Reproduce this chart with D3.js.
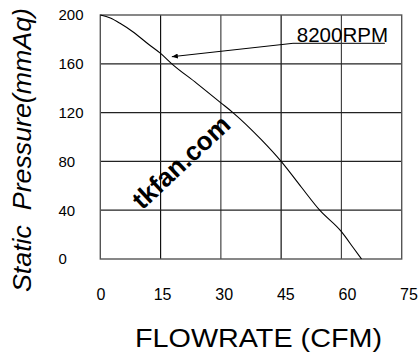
<!DOCTYPE html>
<html><head><meta charset="utf-8">
<script src="https://cdn.jsdelivr.net/npm/d3@7"></script>
<style>html,body{margin:0;padding:0;background:#fff;}svg{display:block;}</style>
</head><body>
<script>
const flowTicks = [0, 15, 30, 45, 60, 75];
const pressureTicks = [0, 40, 80, 120, 160, 200];
const flow = [0, 2.5, 5, 8, 12, 15, 17.8, 24, 30, 33, 40, 45, 50, 54.6, 60, 63, 65];
const pressure = [200, 197.5, 193, 186.5, 176, 168.5, 160, 144, 128, 120, 98, 80, 59, 40, 22.4, 9, 0];
const seriesLabel = "8200RPM";
const xTitle = "FLOWRATE (CFM)";
const yTitle = "Static  Pressure(mmAq)";
const watermark = "tkfan.com";

const W = 418, H = 353;
const svg = d3.select("body").append("svg").attr("width", W).attr("height", H);
const x = d3.scaleLinear().domain([0, 75]).range([100.3, 401.7]);
const xLab = d3.scaleLinear().domain([0, 75]).range([101, 409]);
const y = d3.scaleLinear().domain([0, 200]).range([259, 15]);
const font = "Arial, 'Liberation Sans', Helvetica, sans-serif";

const defs = svg.append("defs");
defs.append("marker").attr("id", "ah").attr("viewBox", "0 0 12 10").attr("refX", 12).attr("refY", 5)
  .attr("markerWidth", 12).attr("markerHeight", 5).attr("markerUnits", "userSpaceOnUse").attr("orient", "auto")
  .append("path").attr("d", "M0,0 L12,5 L0,10 z").attr("fill", "#000");

// grid
const g = svg.append("g");
g.selectAll(".vx").data(flowTicks.slice(1, -1)).join("line")
  .attr("x1", d => x(d)).attr("x2", d => x(d)).attr("y1", y(0)).attr("y2", y(200))
  .attr("stroke", (d, i) => i % 2 ? "#444" : "#111").attr("stroke-width", 1.2);
g.selectAll(".hy").data(pressureTicks.slice(1, -1)).join("line")
  .attr("x1", x(0)).attr("x2", x(75)).attr("y1", d => y(d)).attr("y2", d => y(d))
  .attr("stroke", "#222").attr("stroke-width", 1.2);
g.append("rect").attr("x", x(0)).attr("y", y(200)).attr("width", x(75) - x(0)).attr("height", y(0) - y(200))
  .attr("fill", "none").attr("stroke", "#555").attr("stroke-width", 1.4);

// tick labels
svg.selectAll(".yl").data(pressureTicks).join("text")
  .attr("x", 58.5).attr("y", d => y(d)).attr("dy", "0.36em")
  .attr("font-family", font).attr("font-size", 15).attr("fill", "#000").text(d => d);
svg.selectAll(".xl").data(flowTicks).join("text")
  .attr("x", d => xLab(d)).attr("y", 300).attr("text-anchor", "middle")
  .attr("font-family", font).attr("font-size", 16).attr("fill", "#000").text(d => d);

// titles
svg.append("text").attr("x", 258.5).attr("y", 347).attr("text-anchor", "middle")
  .attr("font-family", font).attr("font-size", 26).attr("textLength", 247).attr("lengthAdjust", "spacingAndGlyphs")
  .attr("fill", "#000").text(xTitle);
svg.append("text").attr("transform", "translate(31,150) rotate(-90)").attr("text-anchor", "middle")
  .attr("font-family", font).attr("font-size", 25).attr("font-style", "italic")
  .attr("textLength", 284).attr("lengthAdjust", "spacingAndGlyphs")
  .style("white-space", "pre").attr("fill", "#000").text(yTitle);

// watermark
svg.append("text").attr("transform", "translate(181,162) rotate(-43)").attr("text-anchor", "middle")
  .attr("dy", "0.35em")
  .attr("font-family", font).attr("font-size", 26).attr("font-weight", "bold").attr("fill", "#000")
  .text(watermark);

// curve
const pts = flow.map((f, i) => [f, pressure[i]]);
svg.append("path").datum(pts)
  .attr("d", d3.line().x(d => x(d[0])).y(d => y(d[1])).curve(d3.curveMonotoneX))
  .attr("fill", "none").attr("stroke", "#000").attr("stroke-width", 1.1);

// annotation
svg.append("text").attr("x", x(48.9)).attr("y", y(178.1)).attr("font-family", font).attr("font-size", 20.5)
  .attr("fill", "#000").text(seriesLabel);
svg.append("line").attr("x1", x(47.95)).attr("x2", x(70.8)).attr("y1", y(176.8)).attr("y2", y(176.8))
  .attr("stroke", "#333").attr("stroke-width", 1.2);
svg.append("line").attr("x1", x(47.95)).attr("y1", y(176.8)).attr("x2", x(17.8)).attr("y2", y(165.8))
  .attr("stroke", "#000").attr("stroke-width", 1).attr("marker-end", "url(#ah)");
</script>
</body></html>
